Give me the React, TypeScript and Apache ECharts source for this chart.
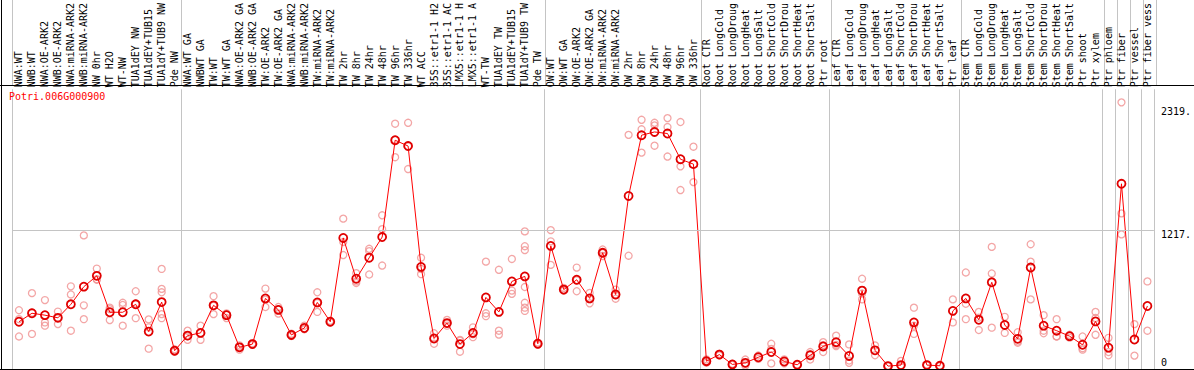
import React, { useEffect, useRef } from "react";
import * as echarts from "echarts";

const geneName = "Potri.006G000900";

const categories = [
  "NWA:WT", "NWB:WT", "NWA:OE-ARK2", "NWB:OE-ARK2", "NWA:miRNA-ARK2", "NWB:miRNA-ARK2",
  "NW 0hr", "WT H2O", "WT-NW", "TUA1dEY NW", "TUA1dEY+TUB15", "TUA1dY+TUB9 NW", "Pde NW",
  "NWA:WT GA", "NWBWT GA", "TW:WT", "TW:WT GA", "NWA:OE-ARK2 GA", "NWB:OE-ARK2 GA",
  "TW:OE-ARK2", "TW:OE-ARK2 GA", "NWA:miRNA-ARK2", "NWB:miRNA-ARK2", "TW:miRNA-ARK2",
  "TW:miRNA-ARK2", "TW 2hr", "TW 8hr", "TW 24hr", "TW 48hr", "TW 96hr", "TW 336hr",
  "WT ACC", "35S::etr1-1 H2", "35S::etr1-1 AC", "LMX5::etr1-1 H", "LMX5::etr1-1 A",
  "WT-TW", "TUA1dEY TW", "TUA1dEY+TUB15", "TUA1dY+TUB9 TW", "Pde TW",
  "OW:WT", "OW:WT GA", "OW:OE-ARK2", "OW:OE-ARK2 GA", "OW:miRNA-ARK2", "OW:miRNA-ARK2",
  "OW 2hr", "OW 8hr", "OW 24hr", "OW 48hr", "OW 96hr", "OW 336hr",
  "Root CTR", "Root LongCold", "Root LongDroug", "Root LongHeat", "Root LongSalt",
  "Root ShortCold", "Root ShortDrou", "Root ShortHeat", "Root ShortSalt", "Ptr root",
  "Leaf CTR", "Leaf LongCold", "Leaf LongDroug", "Leaf LongHeat", "Leaf LongSalt",
  "Leaf ShortCold", "Leaf ShortDrou", "Leaf ShortHeat", "Leaf ShortSalt", "Ptr leaf",
  "Stem CTR", "Stem LongCold", "Stem LongDroug", "Stem LongHeat", "Stem LongSalt",
  "Stem ShortCold", "Stem ShortDrou", "Stem ShortHeat", "Stem ShortSalt", "Ptr shoot",
  "Ptr xylem", "Ptr phloem", "Ptr fiber", "Ptr vessel", "Ptr fiber vess",
];

const meanValues = [
  397, 473, 456, 432, 553, 711, 808, 482, 482, 553, 309, 573, 138,
  273, 297, 544, 456, 168, 197, 606, 503, 279, 341, 570, 397,
  1147, 782, 970, 1155, 2022, 1970, 888, 247, 385, 197, 297, 615, 485, 758, 803, 200,
  1076, 685, 773, 606, 1014, 641, 1523, 2067, 2096, 2082, 1852, 1808,
  44, 103, 15, 29, 79, 126, 41, 12, 97, 176,
  214, 91, 676, 141, 0, 9, 391, 9, 3, 494,
  606, 414, 750, 368, 244, 882, 362, 317, 268, 191, 400,
  165, 1632, 238, 538,
];

const replicateValues = [
  [500, 265, 420], [653, 288, 478], [591, 391, 362], [488, 376, 432], [714, 641, 317],
  [1170, 544, 420], [873, 773, 778], [523, 412, 510], [567, 547, 362], [670, 429, 560],
  [418, 347, 156], [870, 691, 661, 465, 429], [150, 130, 135],
  [317, 235, 268], [362, 235, 294], [626, 465, 540], [465, 430, 472], [185, 147, 172],
  [205, 190, 196], [694, 529, 595], [529, 470, 510], [290, 270, 277], [362, 330, 332],
  [661, 485, 564], [405, 390, 396],
  [1320, 1111, 994], [832, 758, 744], [1050, 1029, 820], [1350, 1226, 900],
  [2170, 1870, 2025], [2178, 1764, 1968], [970, 823, 870], [294, 200, 247],
  [414, 362, 380], [235, 129, 227], [347, 259, 285], [935, 473, 447], [862, 317, 282],
  [959, 676, 647], [1206, 1073, 1038, 708, 567, 523, 494], [210, 190, 200],
  [1217, 1117, 906], [700, 675, 680], [882, 670, 768], [655, 562, 600], [1044, 985, 1012],
  [685, 603, 636], [2070, 988], [2205, 2120, 1911], [2178, 2155, 1973], [2220, 2140, 1876],
  [2185, 1788, 1576], [1964, 1647],
  [60, 30, 42], [110, 96], [10, 20], [59, 5, 22], [95, 65], [200, 24, 154], [60, 25],
  [15, 9], [126, 59, 105], [214, 126, 188],
  [273, 179, 190], [194, 29, 50], [782, 597, 650], [185, 97], [0, 3], [47, 0, 0],
  [523, 288, 362], [15, 5], [5, 0], [597, 391],
  [838, 558, 420], [485, 323, 434], [1067, 829, 344], [441, 297], [303, 220, 209],
  [1091, 935, 597], [456, 317, 294], [420, 265, 266], [280, 255], [265, 147, 160],
  [485, 430, 280],
  [253, 126, 97], [2361, 1367, 1179], [376, 94], [758, 317],
];

const yTickValues = [0, 1217, 2319];
const yTickLabels = ["0", "1217.", "2319."];
const gridLineValues = [1217];
const separatorIndices = [0, 13, 41, 53, 63, 73, 84, 85, 86, 87];

const mono = "'DejaVu Sans Mono', monospace";

export default function App() {
  const ref = useRef<HTMLDivElement>(null);

  useEffect(() => {
    if (!ref.current) return;
    const chart = echarts.init(ref.current, undefined, { renderer: "svg" });
    const sepSet = new Set(separatorIndices);
    const splitLine = {
      show: true,
      interval: (i: number) => sepSet.has(i),
      lineStyle: { color: "#c4c4c4", width: 1, type: "solid" },
    };
    const scatterData: number[][] = [];
    replicateValues.forEach((reps, i) => reps.forEach((v) => scatterData.push([i, v])));

    chart.setOption({
      animation: false,
      backgroundColor: "#ffffff",
      title: {
        text: geneName,
        left: 9,
        top: 91,
        padding: 0,
        textStyle: { color: "#ff0000", fontSize: 10, fontWeight: "normal", fontFamily: mono },
      },
      grid: [
        { left: 12.5, width: 1144, top: 85, bottom: 1 },
        { left: 12.5, width: 1144, top: 0, height: 85 },
      ],
      xAxis: [
        {
          type: "category",
          gridIndex: 0,
          data: categories,
          position: "top",
          boundaryGap: true,
          axisLine: { show: false },
          axisTick: { show: false },
          axisLabel: {
            rotate: 90,
            interval: 0,
            margin: 2,
            padding: [0, 0, -6, 0],
            fontSize: 10,
            fontFamily: mono,
            color: "#000",
          },
          splitLine,
        },
        {
          type: "category",
          gridIndex: 1,
          data: categories,
          boundaryGap: true,
          axisLine: { show: false },
          axisTick: { show: false },
          axisLabel: { show: false },
          splitLine,
        },
      ],
      yAxis: [
        {
          type: "value",
          gridIndex: 0,
          position: "right",
          min: -26,
          max: 2478,
          axisLine: { show: false },
          axisTick: { show: false },
          splitLine: { show: false },
          axisLabel: {
            customValues: yTickValues,
            margin: 7,
            verticalAlign: "middle",
            formatter: (v: number) => {
              const k = yTickValues.indexOf(v);
              if (k < 0) return "";
              return v === 0 ? `{z|${yTickLabels[k]}}` : `{n|${yTickLabels[k]}}`;
            },
            rich: {
              n: { fontSize: 10, fontFamily: mono, color: "#000", padding: [8, 0, 0, 0] },
              z: { fontSize: 10, fontFamily: mono, color: "#000", padding: [0, 0, 8, 0] },
            },
          },
        },
        { type: "value", gridIndex: 1, show: false, min: 0, max: 1 },
      ],
      graphic: [
        { type: "line", silent: true, z: 100, shape: { x1: 1.5, y1: 0, x2: 1.5, y2: 370 }, style: { stroke: "#000", lineWidth: 1 } },
        { type: "line", silent: true, z: 100, shape: { x1: 0, y1: 85.5, x2: 1194, y2: 85.5 }, style: { stroke: "#000", lineWidth: 1 } },
        { type: "line", silent: true, z: 100, shape: { x1: 0, y1: 369.5, x2: 1194, y2: 369.5 }, style: { stroke: "#000", lineWidth: 1 } },
      ],
      series: [
        {
          type: "scatter",
          xAxisIndex: 0,
          yAxisIndex: 0,
          data: scatterData,
          symbol: "circle",
          symbolSize: 7,
          z: 2,
          itemStyle: { color: "rgba(255,255,255,0)", borderColor: "#f09090", borderWidth: 1.3 },
          markLine: {
            silent: true,
            symbol: "none",
            label: { show: false },
            lineStyle: { color: "#c4c4c4", type: "solid", width: 1 },
            data: gridLineValues.map((v) => ({ yAxis: v })),
          },
        },
        {
          type: "line",
          xAxisIndex: 0,
          yAxisIndex: 0,
          data: meanValues,
          symbol: "circle",
          symbolSize: 8,
          showSymbol: true,
          z: 3,
          lineStyle: { color: "#ff0000", width: 1 },
          itemStyle: { color: "rgba(255,255,255,0)", borderColor: "#e00000", borderWidth: 1.8 },
        },
      ],
    });
    return () => chart.dispose();
  }, []);

  return (
    <div
      ref={ref}
      style={{ position: "fixed", left: 0, top: 0, width: 1194, height: 370, background: "#fff" }}
    />
  );
}
